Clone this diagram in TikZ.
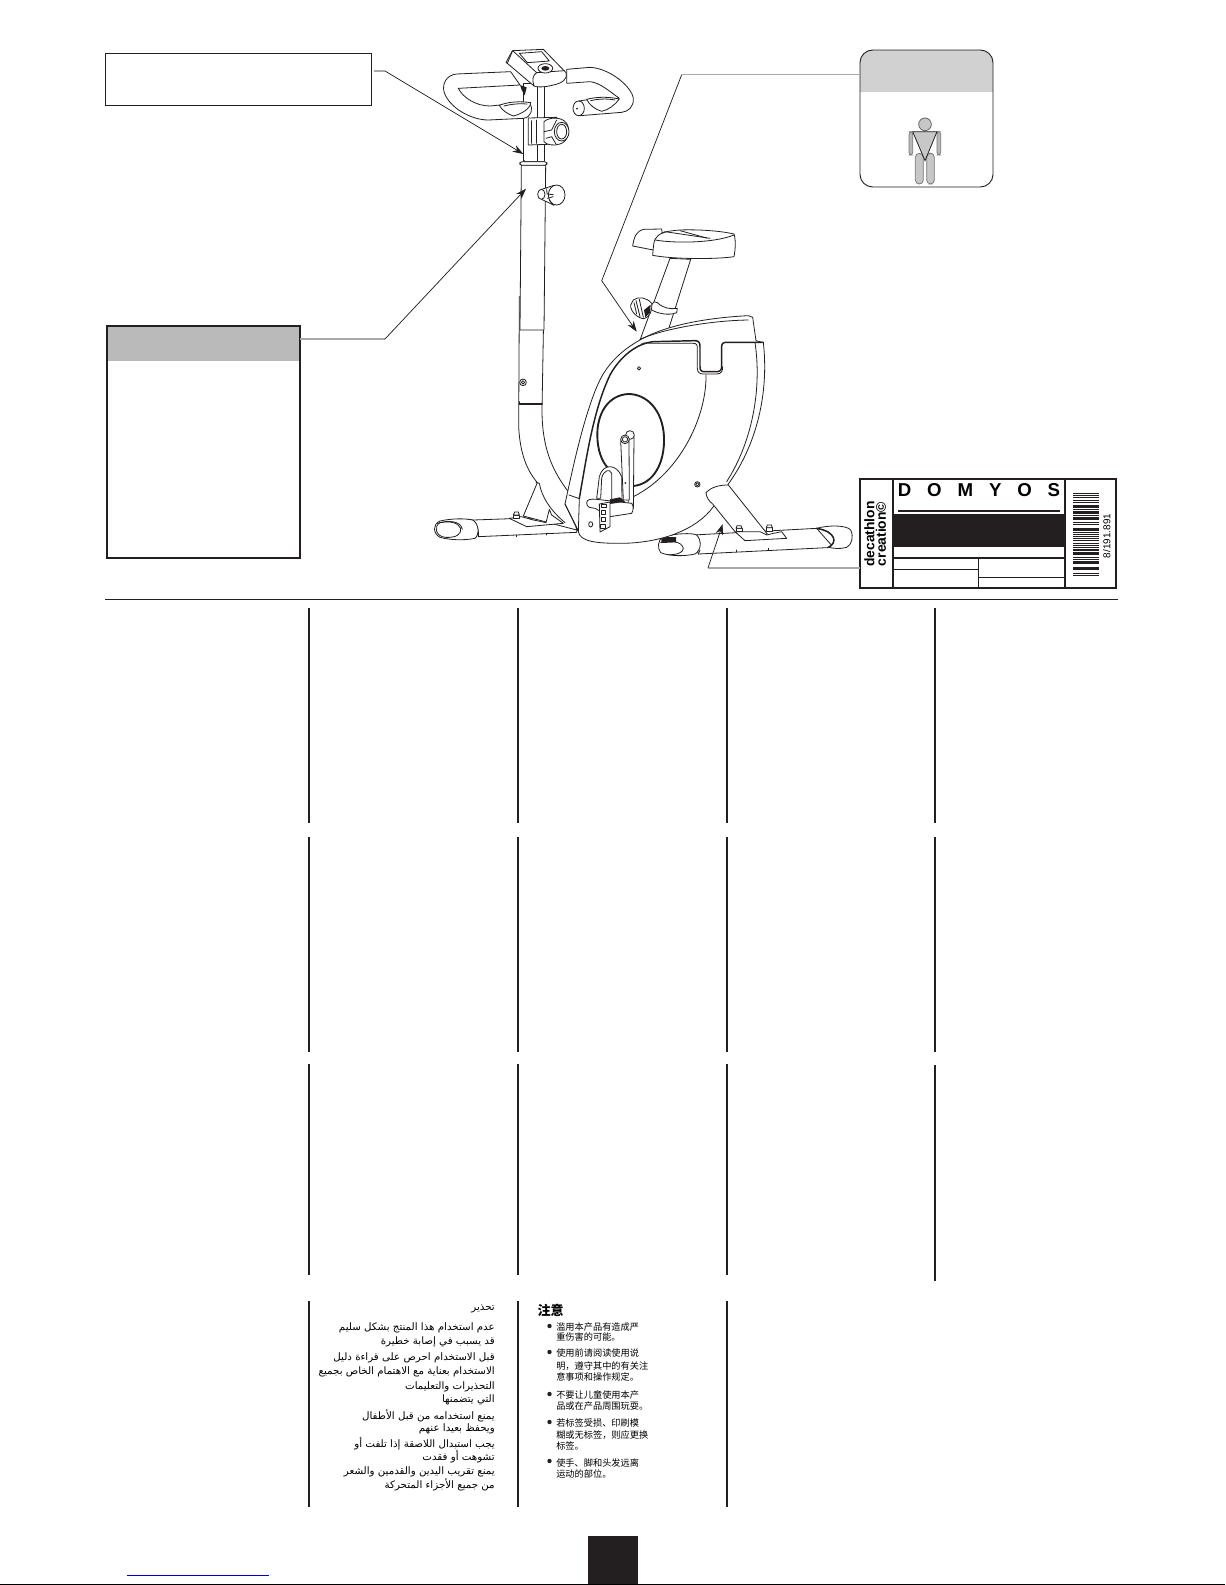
\documentclass[tikz,border=0pt]{standalone}
\usepackage{fontspec}
\usetikzlibrary{arrows.meta}
\setmainfont{Liberation Sans}
\newfontfamily\arabicfont[Script=Arabic]{DejaVu Sans}
\newfontfamily\cjk{Noto Sans CJK SC}
\TeXXeTstate=1
\definecolor{ink}{HTML}{231F20}
\definecolor{stub}{HTML}{A9A9A9}
\tikzset{
  outline/.style={draw=ink,line width=0.6pt,line join=round,line cap=round},
  heavy/.style={draw=ink,line width=1.1pt,line join=round,line cap=round},
  part/.style={outline,fill=white},
  stubline/.style={draw=stub,line width=1.1pt},
  leader/.style={draw=ink,line width=0.55pt},
  leaderarrow/.style={leader,-{Stealth[length=8pt,width=5.5pt]}},
  colrule/.style={draw=ink,line width=1.2pt},
  sheet/.style={draw=ink,inner sep=0pt,outer sep=0pt},
  arline/.style={anchor=east,inner sep=0pt,font=\arabicfont\fontsize{7.7pt}{8pt}\selectfont,text=black},
  cnline/.style={anchor=west,inner sep=0pt,font=\cjk\fontsize{6.9pt}{8pt}\selectfont,text=black},
  zoomA/.style={shift={(420,30)},x=0.25pt,y=-0.25pt},
  zoomB/.style={shift={(420,300)},x=0.25pt,y=-0.25pt},
  zoomC/.style={shift={(560,420)},x=0.25pt,y=-0.25pt},
  zoomD/.style={shift={(840,40)},x=0.25pt,y=-0.25pt}
}
\begin{document}
\begin{tikzpicture}[x=0.75pt,y=-0.75pt]
\useasboundingbox (0,0) rectangle (1225,1585);
\fill[white] (0,0) rectangle (1225,1585);

% ---------- bike: upright tube and front foot
\begin{scope}[zoomB]
  % front foot
  \path[part] (140,658) .. controls (165,660) and (178,680) .. (175,710) -- (470,697) -- (470,660) -- (300,655) -- (160,660) -- cycle;
  \path[part] (60,663) .. controls (95,655) and (135,655) .. (158,660) .. controls (178,672) and (178,705) .. (165,715) .. controls (130,722) and (90,720) .. (60,712) .. controls (38,700) and (38,672) .. (60,663) -- cycle;
  \path[outline] (60,668) .. controls (90,662) and (115,668) .. (122,685) .. controls (125,702) and (110,714) .. (75,712) .. controls (45,708) and (42,678) .. (60,668);
  \path[outline] (52,670) .. controls (85,660) and (122,662) .. (127,688);
  % tube
  \path[part] (298,-10) -- (296,380) .. controls (300,460) and (320,510) .. (352,548)
     -- (310,648) -- (470,690) -- (445,575) .. controls (395,510) and (366,440) .. (366,330) -- (372,-10) -- cycle;
  \path[outline] (348,547) -- (358,550) .. controls (365,590) and (390,630) .. (435,668);
  \path[heavy] (298,312) -- (366,312);
  \path[outline] (298,305) -- (298,312);
  \path[part] (309,247) circle[radius=10];
  \path[outline] (309,247) circle[radius=5];
  % foot plate and bolt
  \path[part] (268,655) -- (305,650) -- (340,660) -- (365,665) -- (378,668) -- (388,628) -- (395,645) -- (430,670) -- (320,680) -- cycle;
  \path[part] (280,645) -- (298,645) -- (298,655) -- (280,655) -- cycle;
  \path[part] (284,636) -- (295,636) -- (298,645) -- (280,645) -- cycle;
  \path[outline] (290,705) -- (290,710);
  \path[outline] (380,700) -- (380,705);
  % rear foot, behind the housing
  \path[part] (820,705) -- (1190,685) -- (1240,742) -- (835,762) -- cycle;
  \path[part] (730,710) .. controls (770,700) and (815,698) .. (830,705) .. controls (845,720) and (845,750) .. (825,762) .. controls (790,770) and (745,768) .. (722,758) .. controls (712,745) and (712,720) .. (730,710) -- cycle;
  \path[outline] (722,728) .. controls (745,720) and (785,722) .. (790,745) .. controls (790,758) and (770,765) .. (745,764);
  \path[fill=ink] (724,712) -- (768,711) -- (768,727) -- (724,729) -- cycle;
  \path[part] (1190,685) .. controls (1225,675) and (1280,675) .. (1292,690) .. controls (1302,710) and (1295,735) .. (1280,742) .. controls (1260,748) and (1240,745) .. (1225,742) .. controls (1252,730) and (1250,695) .. (1190,685) -- cycle;
  \path[heavy] (1190,685) .. controls (1250,695) and (1252,730) .. (1225,742);
  \path[outline] (840,750) -- (835,762);
  \path[outline] (950,750) -- (950,755);
  \path[outline] (1045,745) -- (1045,750);
\end{scope}

% ---------- upper column, console, handlebars
\begin{scope}[zoomA]
  % inner post
  \path[part] (310,160) -- (310,395) -- (372,395) -- (372,170) -- (353,170) -- (353,160) -- cycle;
  \path[outline] (353,170) -- (353,395);
  % left handlebar
  \path[part] (272,125) -- (110,132) .. controls (80,135) and (66,160) .. (72,185) .. controls (85,230) and (150,270) .. (205,270) -- (310,265) .. controls (335,262) and (340,235) .. (330,220) -- (240,225) -- (210,228) .. controls (170,228) and (130,205) .. (115,175) -- (300,165) -- cycle;
  % right handlebar
  \path[part] (440,118) -- (510,112) .. controls (570,115) and (635,170) .. (640,205) .. controls (642,230) and (625,245) .. (605,247) -- (480,257) -- (476,213) -- (510,208) -- (598,205) .. controls (570,185) and (540,158) .. (510,155) -- (440,160) -- cycle;
  % grip end
  \path[part] (476,235) ellipse[x radius=17,y radius=22];
  \path[fill=ink] (471,236) circle[radius=3];
  % pads
  \path[part] (238,226) .. controls (265,215) and (300,213) .. (332,218) .. controls (332,235) and (305,252) .. (280,258) .. controls (262,252) and (245,240) .. (238,226) -- cycle;
  \path[outline] (252,228) .. controls (275,222) and (300,220) .. (322,222);
  \path[part] (500,208) .. controls (530,200) and (565,200) .. (598,207) .. controls (585,225) and (565,240) .. (545,244) .. controls (525,238) and (508,225) .. (500,208) -- cycle;
  \path[outline] (512,212) .. controls (535,206) and (565,206) .. (585,210);
  % console
  \path[part] (278,62) -- (370,58) -- (438,128) .. controls (444,148) and (425,160) .. (400,165) .. controls (375,172) and (350,172) .. (342,168) -- (262,100) -- cycle;
  \path[outline] (262,100) -- (258,98) -- (276,64);
  \path[outline] (278,62) -- (350,128);
  \path[outline] (350,128) -- (434,122);
  \path[outline] (342,168) .. controls (336,150) and (338,135) .. (350,128);
  \path[outline] (298,70) -- (365,65) -- (388,93) -- (322,98) -- cycle;
  \path[part] (376,115) ellipse[x radius=22,y radius=14];
  \path[fill=ink] (376,115) ellipse[x radius=12,y radius=7];
  % little wedge under the console
  \path[fill=ink] (300,165) -- (320,172) -- (314,196) -- (305,180) -- cycle;
  % seat-height bracket and knob
  \path[part] (325,264) -- (410,262) -- (410,342) -- (325,345) -- cycle;
  \path[outline] (333,272) -- (333,340);
  \path[outline] (350,270) -- (350,340);
  \path[part] (372,275) .. controls (385,262) and (425,258) .. (440,280) .. controls (452,300) and (445,335) .. (420,342) .. controls (400,348) and (380,345) .. (372,335) -- cycle;
  \path[outline] (372,305) -- (395,300) -- (410,270);
  \path[outline] (378,325) -- (395,320) -- (408,342);
  \path[part] (425,305) ellipse[x radius=22,y radius=28];
  \path[outline] (425,305) ellipse[x radius=15,y radius=22];
  % collar
  \path[part] (304,406) -- (377,406) -- (372,900) -- (300,900) -- cycle;
  \path[part,rounded corners=2pt] (299,395) rectangle (381,406);
  \path[outline] (312,392) -- (312,395);
  % side knob
  \path[part] (365,478) -- (402,466) -- (402,526) -- (365,508) -- cycle;
  \path[part] (364,493) ellipse[x radius=11,y radius=15];
  \path[part] (410,495) ellipse[x radius=25,y radius=30];
  \path[outline] (380,476) -- (381,492) -- (400,494);
  \path[outline] (382,505) -- (400,500);
  \path[outline] (388,510) -- (398,524);
\end{scope}

% ---------- seat
\begin{scope}[zoomA]
  \path[part] (750,685) -- (660,930) -- (745,900) -- (812,688) -- cycle;
  \path[part] (638,648) .. controls (642,620) and (650,602) .. (672,598) -- (725,597) -- (730,640) -- (700,660) -- cycle;
  \path[part] (705,628) .. controls (715,610) and (735,603) .. (780,600) .. controls (830,598) and (900,602) .. (942,612) .. controls (948,630) and (946,660) .. (942,680) .. controls (890,688) and (760,688) .. (698,676) .. controls (700,655) and (700,640) .. (705,628) -- cycle;
  \path[outline] (706,630) .. controls (760,640) and (880,640) .. (942,615);
  \path[outline] (725,610) -- (735,605) -- (870,625);
  \path[outline] (780,602) -- (860,624);
  \path[part] (695,825) .. controls (700,815) and (707,812) .. (712,818) .. controls (730,835) and (750,838) .. (772,835) -- (770,848) .. controls (745,858) and (710,850) .. (692,838) -- cycle;
  \path[part] (640,810) .. controls (655,798) and (680,802) .. (695,820) .. controls (698,838) and (690,862) .. (672,866) .. controls (655,866) and (630,845) .. (632,825) -- cycle;
  \path[outline] (648,812) -- (660,860);
  \path[outline] (658,808) -- (670,862);
  \path[outline] (642,818) -- (650,852);
  \path[fill=ink] (672,840) -- (692,824) -- (690,848) -- (676,862) -- cycle;
\end{scope}

% ---------- housing
\begin{scope}[zoomB]
  \path[part] (435,612) .. controls (455,520) and (490,350) .. (535,250) .. controls (570,170) and (650,110) .. (760,80) .. controls (830,60) and (920,50) .. (985,47) -- (998,52) -- (1008,122) -- (1030,128) .. controls (1045,260) and (1020,420) .. (925,552) .. controls (905,585) and (890,605) .. (880,620) .. controls (830,690) and (720,730) .. (600,730) .. controls (530,730) and (480,725) .. (475,695) -- cycle;
  \path[outline] (660,118) .. controls (720,90) and (860,62) .. (985,60);
  \path[outline] (1005,128) .. controls (1025,260) and (1000,420) .. (920,545);
  \path[outline] (475,695) -- (478,595);
  \path[outline] (447,585) -- (478,596);
  \path[outline] (435,612) -- (475,692);
  \path[heavy] (478,595) .. controls (500,470) and (520,330) .. (570,225) .. controls (600,170) and (650,130) .. (700,125) -- (825,122) .. controls (838,122) and (840,130) .. (840,140) -- (840,200) .. controls (840,213) and (845,215) .. (855,215) -- (890,215) .. controls (900,215) and (905,210) .. (905,200) -- (905,140) .. controls (905,130) and (910,127) .. (920,127) -- (1030,127);
  \path[outline] (665,130) .. controls (680,128) and (690,130) .. (700,130) -- (820,130) .. controls (830,130) and (832,135) .. (832,145) -- (832,205) .. controls (832,218) and (840,222) .. (850,222) -- (890,222) .. controls (905,222) and (908,212) .. (908,200);
  \path[outline] (858,225) .. controls (860,350) and (780,520) .. (640,590);
  \path[outline] (657,205) circle[radius=5];
  \path[outline] (832,553) circle[radius=8];
  \path[outline] (832,553) circle[radius=5];
  % flywheel disc
  \path[heavy,line width=1.4pt] (640,558) .. controls (700,552) and (735,490) .. (732,410) .. controls (728,330) and (680,282) .. (625,282) .. controls (565,285) and (530,340) .. (532,410) .. controls (533,450) and (545,485) .. (565,505);
  % rear strut
  \path[part] (858,578) .. controls (875,560) and (900,555) .. (925,555) -- (1042,702) -- (980,720) -- (945,695) -- (878,612) .. controls (868,605) and (858,590) .. (858,578) -- cycle;
  \path[part] (945,695) -- (975,722) -- (1100,715) -- (1085,695) -- (1060,700) -- (1040,705) -- (1020,695) -- cycle;
  \path[part] (948,685) -- (966,685) -- (966,695) -- (948,695) -- cycle;
  \path[part] (951,677) -- (963,677) -- (966,685) -- (948,685) -- cycle;
  \path[part] (1039,683) -- (1057,683) -- (1057,693) -- (1039,693) -- cycle;
  \path[part] (1042,675) -- (1054,675) -- (1057,683) -- (1039,683) -- cycle;
\end{scope}

% ---------- crank and pedal
\begin{scope}[zoomC]
  \path[part] (110,235) -- (118,170) .. controls (128,130) and (170,130) .. (185,170) -- (186,240) -- (155,240) -- (155,160) .. controls (150,145) and (130,150) .. (125,175) -- (122,235) -- cycle;
  \path[part] (205,45) -- (222,50) -- (220,265) -- (205,265) -- cycle;
  \path[part] (182,62) .. controls (190,70) and (205,65) .. (207,60) -- (208,240) -- (190,240) -- cycle;
  \path[part] (210,45) circle[radius=13];
  \path[part] (195,58) circle[radius=13];
  \path[part] (195,58) circle[radius=8];
  \path[fill=ink] (196,189) circle[radius=3];
  \path[part] (80,248) .. controls (80,238) and (95,236) .. (110,238) -- (215,250) .. controls (222,258) and (220,272) .. (215,280) -- (150,290) -- (105,265) -- (88,262) .. controls (82,260) and (80,254) .. (80,248) -- cycle;
  \path[fill=ink] (150,238) -- (180,232) -- (195,245) -- (150,252) -- cycle;
  \path[part] (118,252) -- (150,246) -- (150,320) -- (120,336) -- cycle;
  \foreach \a/\b in {125/252,123/272,123/293,122/314}
    \path[part] (\a,\b) rectangle ++(13,10);
  \path[outline] (92,313) ellipse[x radius=6,y radius=8];
\end{scope}

% ---------- boxes
\node[sheet,line width=1pt,minimum width=199.8pt,minimum height=39pt,anchor=north west] (spec) at (105.3,53.3) {};
\path[fill=black!27] (107,326) rectangle (300,361);
\node[sheet,line width=1.4pt,minimum width=144.75pt,minimum height=174pt,anchor=north west] (warn) at (107,326) {};
\path[fill=black!18] (860,92) [rounded corners=9.5pt] -- (860,50) -- (993,50) [sharp corners] -- (993,92) -- cycle;
\node[sheet,line width=0.7pt,rounded corners=9.5pt,minimum width=99.75pt,minimum height=102.75pt,anchor=north west] (user) at (860,50) {};

\begin{scope}[zoomD]
  \path[draw=ink!60,fill=black!28,line width=0.6pt,rounded corners=2pt] (207,275) rectangle (218,345);
  \path[draw=ink!60,fill=black!28,line width=0.6pt,rounded corners=2pt] (291,275) rectangle (302,345);
  \path[draw=ink!60,fill=black!22,line width=0.6pt,rounded corners=3pt] (226,340) rectangle (250,432);
  \path[draw=ink!60,fill=black!22,line width=0.6pt,rounded corners=3pt] (260,340) rectangle (283,432);
  \path[draw=ink!70,fill=black!22,line width=0.6pt] (255,253) circle[radius=19];
  \path[draw=ink,fill=black!22,line width=0.6pt] (218,275) -- (291,275) -- (255,362) -- cycle;
\end{scope}

% ---------- callout connectors
\coordinate (specelbow) at (385,71);
\coordinate (spectip) at (523.3,154);
\coordinate (warnelbow) at (385,339);
\coordinate (warntip) at (526,188.7);
\coordinate (userelbow) at (681.7,74.7);
\coordinate (userknee) at (601.7,280.7);
\coordinate (usertip) at (636.7,331.7);
\coordinate (labelelbow) at (708,568);
\coordinate (labeltip) at (722.7,524);

\draw[stubline] (spec.east |- specelbow) ++(2,0) -- (specelbow);
\draw[leaderarrow] (specelbow) -- (spectip);
\draw[stubline] (warn.east |- warnelbow) -- (warnelbow);
\draw[leaderarrow] (warnelbow) -- (warntip);
\draw[stubline] (user.west |- userelbow) -- (userelbow);
\draw[leader] (userelbow) -- (userknee);
\draw[leaderarrow] (userknee) -- (usertip);

% ---------- label
\node[sheet,line width=1.2pt,minimum width=192pt,minimum height=81.75pt,anchor=north west] (label) at (860,479) {};
\draw[stubline,line width=0.8pt] (label.west |- labelelbow) -- (labelelbow);
\draw[leaderarrow] (labelelbow) -- (labeltip);
\draw[ink,line width=1.2pt] (892.7,479) -- (892.7,588);
\draw[ink,line width=1.2pt] (1065,479) -- (1065,588);
\fill[ink] (892.7,514) rectangle (1065,546.7);
\draw[ink,line width=1.3pt] (898,510.7) -- (1060,510.7);
\draw[ink,line width=1.3pt] (892.7,557.7) -- (1065,557.7);
\draw[ink,line width=0.7pt] (892.7,569) -- (978.5,569);
\draw[ink,line width=1pt] (978.5,557.7) -- (978.5,588);
\draw[ink,line width=0.7pt] (978.5,577) -- (1065,577);
\node[inner sep=0pt] (domyos) at (979,490) {\fontsize{14pt}{15pt}\selectfont\bfseries\addfontfeature{LetterSpace=85}DOMYOS};
\node[inner sep=0pt,rotate=90] (deca) at (869.5,534) {\fontsize{10.4pt}{11pt}\selectfont\bfseries decathlon};
\node[inner sep=0pt,rotate=90] (crea) at (881,534) {\fontsize{10.4pt}{11pt}\selectfont\bfseries creation©};
\node[inner sep=0pt,rotate=90] (code) at (1106.7,536) {\fontsize{7.5pt}{8pt}\selectfont 8/191.891};
% barcode
\foreach \yy/\hh in {24/2,30/2,37/2,44/2,50/2,60/9,72/2,79/9,91/2,96/10,110/2,118/2,128/11,142/3,148/2,154/2,160/2,166/3,173/3,180/2,186/3,193/5,201/5,208/3,215/3,221/2,228/8,246/10,264/2,270/2}
  \fill[ink] (1073,485+\yy/3) rectangle (1099,485+\yy/3+\hh/3);

% ---------- page rules
\draw[ink,line width=0.75pt] (105,599) -- (1118,599);
\foreach \cx in {309,518,727,935} {
  \draw[colrule] (\cx,608) -- (\cx,822.7);
  \draw[colrule] (\cx,837) -- (\cx,1051.7);
}
\foreach \cx in {309,518,727} {
  \draw[colrule] (\cx,1064) -- (\cx,1274.5);
  \draw[colrule] (\cx,1301) -- (\cx,1506.5);
}
\draw[colrule] (935,1065) -- (935,1280.5);

% ---------- arabic column
\foreach \nm/\yy/\tx in {
 a1/1309/تحذير,
 a2/1328/عدم استخدام هذا المنتج بشكل سليم,
 a3/1342/قد يسبب في إصابة خطيرة,
 a4/1358/قبل الاستخدام احرص على قراءة دليل,
 a5/1372/الاستخدام بعناية مع الاهتمام الخاص بجميع,
 a6/1387/التحذيرات والتعليمات,
 a7/1400/التي يتضمنها,
 a8/1416/يمنع استخدامه من قبل الأطفال,
 a9/1429/ويحفظ بعيدا عنهم,
 a10/1444/يجب استبدال اللاصقة إذا تلفت أو,
 a11/1457/تشوهت أو فقدت,
 a12/1472/يمنع تقريب اليدين والقدمين والشعر,
 a13/1485/من جميع الأجزاء المتحركة}
  \node[arline] (\nm) at (495,\yy) {\beginR \tx\endR};

% ---------- chinese column
\node[anchor=west,inner sep=0pt,font=\cjk\fontsize{9.8pt}{10pt}\selectfont\bfseries] (c0) at (537.3,1310) {注意};
\foreach \nm/\yy/\tx in {
 c1/1326.7/滥用本产品有造成严,
 c2/1337.3/重伤害的可能。,
 c3/1353.3/使用前请阅读使用说,
 c4/1366/明，遵守其中的有关注,
 c5/1376.7/意事项和操作规定。,
 c6/1395/不要让儿童使用本产,
 c7/1406/品或在产品周围玩耍。,
 c8/1423.3/若标签受损、印刷模,
 c9/1435/糊或无标签，则应更换,
 c10/1446/标签。,
 c11/1462.7/使手、脚和头发远离,
 c12/1474.3/运动的部位。}
  \node[cnline] (\nm) at (556,\yy) {\tx};
\foreach \yy in {1326,1352,1394,1422,1461}
  \fill[ink] (549.5,\yy) circle[radius=2.2];

% ---------- foot of page
\fill[ink] (588,1536) rectangle (638,1585);
\draw[blue!80!black,line width=1pt] (127,1575.3) -- (269,1575.3);
\draw[black,line width=1pt] (0,1584.4) -- (1225,1584.4);
\end{tikzpicture}
\end{document}
